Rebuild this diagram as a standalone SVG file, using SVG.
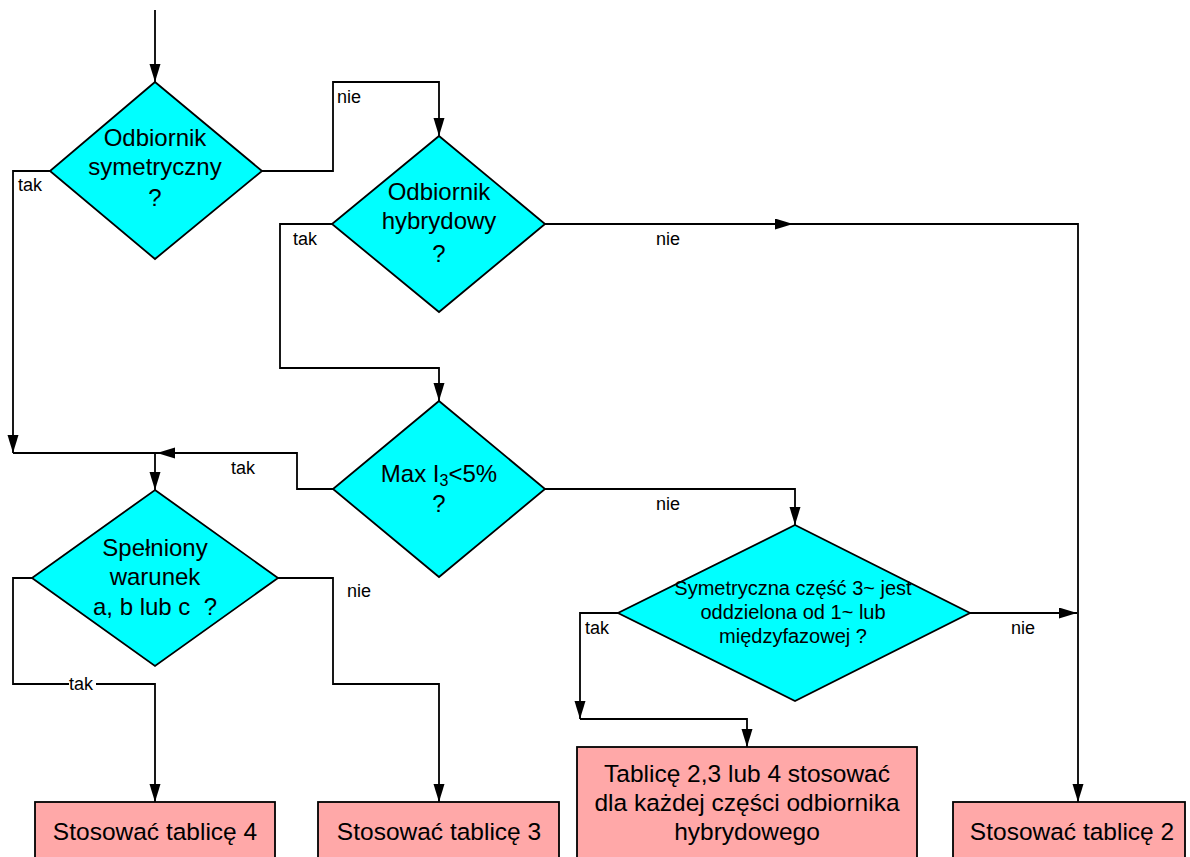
<svg xmlns="http://www.w3.org/2000/svg" width="1190" height="857" viewBox="0 0 1190 857">
  <defs>
    <marker id="arrow" markerUnits="userSpaceOnUse" markerWidth="19" markerHeight="12" refX="18" refY="5.5" orient="auto">
      <path d="M0,0 L18,5.5 L0,11 z" fill="#000"/>
    </marker>
    <style>
      .dec { fill: #00FFFF; stroke: #000; stroke-width: 1.8; }
      .box { fill: #FFA8A8; stroke: #000; stroke-width: 1.8; }
      .t { font-family: "Liberation Sans", Arial, sans-serif; font-size: 24px; fill: #000; text-anchor: middle; }
      .tb { font-family: "Liberation Sans", Arial, sans-serif; font-size: 24.5px; fill: #000; text-anchor: middle; }
      .ts { font-family: "Liberation Sans", Arial, sans-serif; font-size: 20px; fill: #000; text-anchor: middle; }
      .lbl { font-family: "Liberation Sans", Arial, sans-serif; font-size: 18px; fill: #000; }
      .c { fill: none; stroke: #000; stroke-width: 1.8; }
      .ca { fill: none; stroke: #000; stroke-width: 1.8; marker-end: url(#arrow); }
    </style>
  </defs>
  <rect width="1190" height="857" fill="#fff"/>

  <!-- connectors -->
  <g id="connectors">
    <path class="ca" d="M155,10 L155,82"/>
    <path class="ca" d="M262,171 L333,171 L333,82 L439,82 L439,136"/>
    <path class="ca" d="M50,171 L13,171 L13,453"/>
    <path class="ca" d="M332,224 L280,224 L280,368 L439,368 L439,401"/>
    <path class="ca" d="M545,224 L793,224"/>
    <path class="ca" d="M793,224 L1078,224 L1078,802"/>
    <path class="ca" d="M333,489 L297,489 L297,453 L157,453"/>
    <path class="c" d="M13,453 L157,453"/>
    <path class="ca" d="M155,453 L155,490"/>
    <path class="ca" d="M545,489 L795,489 L795,525"/>
    <path class="ca" d="M32,578 L13,578 L13,684 L155,684 L155,802"/>
    <path class="ca" d="M278,578 L333,578 L333,684 L439,684 L439,802"/>
    <path class="ca" d="M618,613 L580,613 L580,719"/>
    <path class="ca" d="M580,719 L747,719 L747,747"/>
    <path class="ca" d="M970,613 L1077,613"/>

    <text class="lbl" x="18" y="191">tak</text>
    <text class="lbl" x="337" y="103">nie</text>
    <text class="lbl" x="293" y="245">tak</text>
    <text class="lbl" x="656" y="245">nie</text>
    <text class="lbl" x="231" y="474">tak</text>
    <text class="lbl" x="656" y="510">nie</text>
    <text class="lbl" x="347" y="597">nie</text>
    <rect x="69" y="677" width="27" height="13" fill="#fff"/>
    <text class="lbl" x="69" y="690">tak</text>
    <text class="lbl" x="585" y="634">tak</text>
    <text class="lbl" x="1011" y="634">nie</text>
  </g>

  <!-- decisions -->
  <g id="d-symetryczny">
    <polygon class="dec" points="155,82 262,171 155,259 50,171"/>
    <text class="t" x="155" y="146">Odbiornik</text>
    <text class="t" x="155" y="175">symetryczny</text>
    <text class="t" x="155" y="206">?</text>
  </g>
  <g id="d-hybrydowy">
    <polygon class="dec" points="439,136 545,224 439,312 332,224"/>
    <text class="t" x="439" y="200">Odbiornik</text>
    <text class="t" x="439" y="229">hybrydowy</text>
    <text class="t" x="439" y="262">?</text>
  </g>
  <g id="d-max-i3">
    <polygon class="dec" points="439,401 545,489 439,577 333,489"/>
    <text class="t" x="439" y="482">Max I<tspan font-size="16" dy="4">3</tspan><tspan dy="-4">&lt;5%</tspan></text>
    <text class="t" x="439" y="512">?</text>
  </g>
  <g id="d-warunek">
    <polygon class="dec" points="155,490 278,578 155,666 32,578"/>
    <text class="t" x="155" y="556">Spełniony</text>
    <text class="t" x="155" y="585">warunek</text>
    <text class="t" x="155" y="615" xml:space="preserve">a, b lub c  ?</text>
  </g>
  <g id="d-czesc">
    <polygon class="dec" points="795,525 970,613 795,701 618,613"/>
    <text class="ts" x="793" y="595">Symetryczna część 3~ jest</text>
    <text class="ts" x="793" y="619">oddzielona od 1~ lub</text>
    <text class="ts" x="793" y="643">międzyfazowej ?</text>
  </g>

  <!-- results -->
  <g id="r-tablica4">
    <rect class="box" x="35" y="802" width="240" height="70"/>
    <text class="tb" x="155" y="840">Stosować tablicę 4</text>
  </g>
  <g id="r-tablica3">
    <rect class="box" x="318" y="802" width="241" height="70"/>
    <text class="tb" x="439" y="840">Stosować tablicę 3</text>
  </g>
  <g id="r-hybrydowy">
    <rect class="box" x="577" y="747" width="340" height="125"/>
    <text class="tb" x="747" y="782">Tablicę 2,3 lub 4 stosować</text>
    <text class="tb" x="747" y="811">dla każdej części odbiornika</text>
    <text class="tb" x="747" y="840">hybrydowego</text>
  </g>
  <g id="r-tablica2">
    <rect class="box" x="953" y="802" width="232" height="70"/>
    <text class="tb" x="1072" y="840">Stosować tablicę 2</text>
  </g>
</svg>
